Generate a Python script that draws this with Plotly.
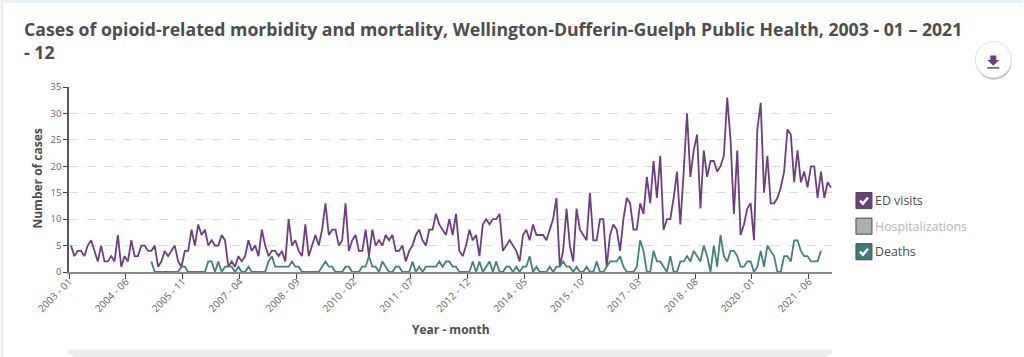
import plotly.graph_objects as go

W, H = 1024, 357
L, R, T, B = 68.5, 832.5, 87.3, 271.7

TITLE = "Cases of opioid-related morbidity and mortality, Wellington-Dufferin-Guelph Public Health, 2003 - 01 – 2021<br>- 12"
ed_visits = [5,3,4,4,3,5,6,4,2,5,2,2,3,2,7,1,3,2,6,3,3,5,5,4,4,5,1,2,4,3,4,5,2,1,4,4,8,5,9,7,8,5,6,5,5,7,6,1,2,1,3,2,3,6,4,5,3,8,5,3,4,4,3,4,2,10,5,6,4,3,9,3,5,7,5,8,13,
             7,8,8,5,6,13,4,6,7,4,4,8,3,8,5,6,5,7,6,7,4,4,5,2,4,5,7,8,6,5,8,8,11,9,8,7,10,7,11,4,3,5,8,6,7,3,9,10,9,10,10,11,4,5,6,5,4,2,7,8,6,9,7,7,7,6,8,10,14,1,4,12,5,2,12,8,7,6,15,6,6,
             10,10,1,7,9,8,4,10,14,13,8,8,13,11,18,13,21,14,22,8,10,10,14,19,9,19,30,18,23,26,12,23,18,21,21,19,20,22,33,25,11,23,7,9,12,13,6,27,32,15,22,13,13,14,16,19,27,26,17,23,17,19,16,20,20,14,19,14,17,16]
deaths = [None]*24 + [2,0,0,0,0,0,0,0,0,1,1,0,0,0,0,0,0,2,2,0,2,0,1,1,1,0,1,0,0,1,0,0,0,0,0,2,3,1,1,1,1,1,2,1,1,0,0,0,0,0,0,1,
          2,1,1,0,0,0,1,1,0,0,0,1,1,3,1,1,0,2,1,0,0,1,1,0,0,0,2,0,1,0,1,1,1,1,2,1,2,2,1,1,0,0,0,0,2,0,2,0,1,2,0,2,0,0,1,1,0,1,0,1,1,3,0,1,0,0,0,1,0,1,1,2,1,1,0,1,0,0,1,0,0,2,
          0,0,1,2,2,2,3,1,0,0,0,1,6,4,0,0,4,2,2,1,0,3,0,0,2,2,3,2,4,3,2,5,3,0,5,1,7,3,2,4,4,3,1,1,2,2,0,1,4,1,5,4,3,0,0,3,3,2,6,6,4,3,3,2,2,2,4] + [None]*3
tick_index = [0,17,34,51,68,85,102,119,136,153,170,187,204,221]
tick_labels = ["2003 - 01","2004 - 06","2005 - 11","2007 - 04","2008 - 09","2010 - 02","2011 - 07",
               "2012 - 12","2014 - 05","2015 - 10","2017 - 03","2018 - 08","2020 - 01","2021 - 06"]
y_ticks = [0,5,10,15,20,25,30,35]
legend_names = ["ED visits","Hospitalizations","Deaths"]

PURPLE, TEAL, GREY = "#6e3f80", "#44807f", "#a9b0b0"
TXT = "#4d4d4d"
FONT = "Open Sans"
months = list(range(len(ed_visits)))
BAND = 0.6

def fx(x): return (x - L) / (R - L)
def fy(y): return (B - y) / (B - T)
def rect(x0, y0, x1, y1, **k):
    return dict(type="rect", xref="paper", yref="paper", x0=fx(x0), x1=fx(x1), y0=fy(y1), y1=fy(y0), **k)
def path(points, close=False, **k):
    d = "M" + " L".join(f"{fx(a):.5f},{fy(b):.5f}" for a, b in points) + (" Z" if close else "")
    return dict(type="path", xref="paper", yref="paper", path=d, **k)
def circle(cx, cy, r, **k):
    return dict(type="circle", xref="paper", yref="paper", x0=fx(cx-r), x1=fx(cx+r), y0=fy(cy+r), y1=fy(cy-r), **k)

fig = go.Figure()
fig.add_scatter(x=months, y=ed_visits, mode="lines", name="ED visits", line=dict(color=PURPLE, width=1.8), showlegend=False)
fig.add_scatter(x=months, y=deaths, mode="lines", name="Deaths", line=dict(color=TEAL, width=1.8), showlegend=False)

shapes = [
    rect(0, 0, 3, H, fillcolor="#eeeeee", line_width=0, layer="below"),
    rect(3, 0, W, 3.5, fillcolor="#e6f1f7", line_width=0, layer="below"),
    rect(68, 349, 832, H, fillcolor="#ececec", line_width=0, layer="below"),
    circle(68, 364, 10, fillcolor="#ffffff", line_width=0, layer="below"),
    circle(832, 364, 10, fillcolor="#ffffff", line_width=0, layer="below"),
    circle(994.5, 62, 18, fillcolor="#9a9a9a", line_width=0, opacity=0.6),
    circle(994, 60, 18, fillcolor="#ffffff", line=dict(color="#e2e2e2", width=1)),
    path([(991,56),(997,56),(997,60.5),(1000,60.5),(994,66),(988,60.5),(991,60.5)], True, fillcolor=PURPLE, line_width=0),
    rect(988, 67.5, 1000, 69, fillcolor=PURPLE, line_width=0),
]
annotations = []
for name, y, col, tcol, check in [
    (legend_names[0], 200.5, PURPLE, TXT, True),
    (legend_names[1], 226, GREY, "#b5b9b9", False),
    (legend_names[2], 251.5, "#3f7b7c", TXT, True),
]:
    shapes.append(rect(856.5, y-8, 872.5, y+8, fillcolor=col, line=dict(color="#4a4a4a", width=1)))
    if check:
        shapes.append(path([(860.5,y),(863.5,y+3),(868.5,y-3)], line=dict(color="#ffffff", width=2.5)))
    annotations.append(dict(text=name, xref="paper", yref="paper", x=fx(873.5), y=fy(y), xanchor="left", yanchor="middle",
                            showarrow=False, font=dict(family=FONT, size=12.4, color=tcol)))
annotations.append(dict(text="<b>Year - month</b>", xref="paper", yref="paper", x=fx(451), y=fy(329), xanchor="center", yanchor="middle",
                        showarrow=False, font=dict(family=FONT, size=12, color=TXT)))
annotations.append(dict(text="<b>Number of cases</b>", xref="paper", yref="paper", x=fx(37), y=fy(179), xanchor="center", yanchor="middle",
                        textangle=-90, showarrow=False, font=dict(family=FONT, size=12, color=TXT)))
annotations.append(dict(text=TITLE, xref="paper", yref="paper", x=fx(21), y=fy(41), xanchor="left", yanchor="middle", align="left",
                        showarrow=False, font=dict(family=FONT, size=17.68, color=TXT, weight=700)))

fig.update_layout(
    width=W, height=H, autosize=False,
    margin=dict(l=L, r=W-R, t=T, b=H-B, pad=0),
    paper_bgcolor="#ffffff", plot_bgcolor="#ffffff",
    showlegend=False, hovermode="x",
    shapes=shapes, annotations=annotations,
    xaxis=dict(range=[-BAND, 227.9-BAND], tickmode="array", tickvals=[i-BAND for i in tick_index], ticktext=tick_labels, automargin=False,
               tickangle=-45, tickfont=dict(family=FONT, size=10, color="#666666"), ticks="outside", ticklen=5, tickcolor="#444444",
               ticklabelstandoff=-7,
               showgrid=False, zeroline=False, showline=True, linecolor="#8a8a8a", linewidth=2),
    yaxis=dict(range=[0,35], tickmode="array", tickvals=y_ticks, tickfont=dict(family=FONT, size=9.5, color="#666666"), automargin=False,
               ticks="outside", ticklen=4, tickcolor="#444444", showline=True, linecolor="#555555", linewidth=1.5,
               showgrid=True, gridcolor="#dddddd", griddash="dash", gridwidth=1, zeroline=False),
)
fig.write_html("out.html", config={"displayModeBar": False},
               post_script="document.body.style.margin='0';document.body.style.overflow='hidden';")
